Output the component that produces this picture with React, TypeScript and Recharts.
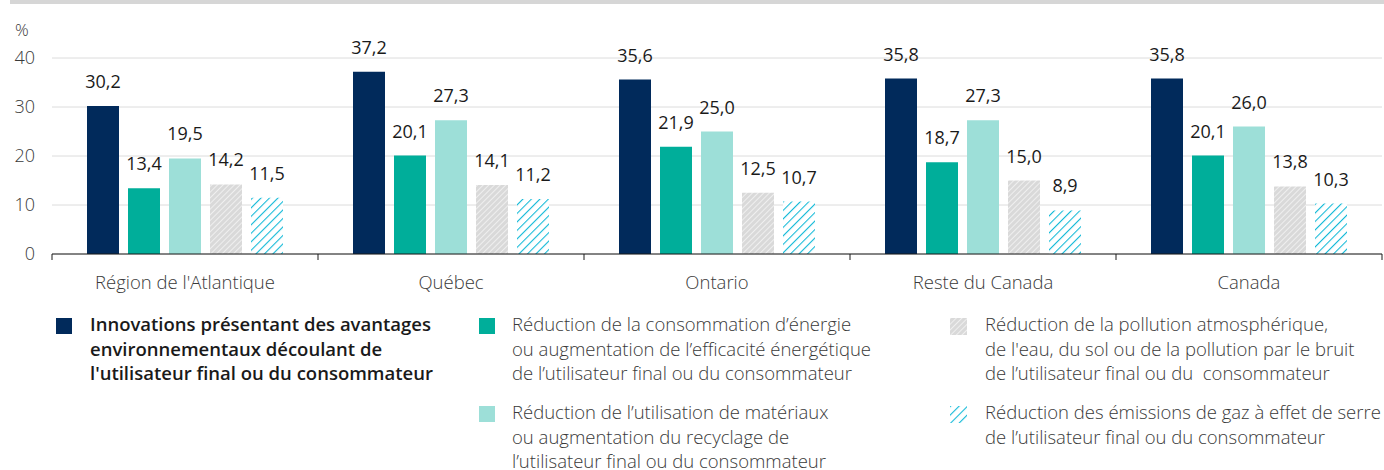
import { BarChart, Bar, XAxis, YAxis, CartesianGrid, LabelList } from 'recharts'

document.body.style.margin = '0'

const categories = ['Région de l\'Atlantique', 'Québec', 'Ontario', 'Reste du Canada', 'Canada']
const avantages = [30.2, 37.2, 35.6, 35.8, 35.8]
const energie = [13.4, 20.1, 21.9, 18.7, 20.1]
const materiaux = [19.5, 27.3, 25.0, 27.3, 26.0]
const pollution = [14.2, 14.1, 12.5, 15.0, 13.8]
const emissions = [11.5, 11.2, 10.7, 8.9, 10.3]
const yTicks = [0, 10, 20, 30, 40]

const data = categories.map((name, i) => ({
  name,
  avantages: avantages[i],
  energie: energie[i],
  materiaux: materiaux[i],
  pollution: pollution[i],
  emissions: emissions[i],
}))

const CHART_W = 1384
const CHART_H = 300
const MARGIN = { top: 58, right: 2, left: 0, bottom: 0 }
const Y_W = 52
const PLOT_W = CHART_W - MARGIN.left - MARGIN.right - Y_W
const BAND = PLOT_W / categories.length

const NAVY = '#012a5b'
const TEAL = '#00ae9a'
const LIGHT_TEAL = '#9ddfd8'
const GRAY = '#d9d9d9'
const CYAN = '#14bad8'
const TEXT = '#3a3a3a'
const FS = 18.5

const series = [
  { key: 'avantages', fill: NAVY },
  { key: 'energie', fill: TEAL },
  { key: 'materiaux', fill: LIGHT_TEAL },
  { key: 'pollution', fill: 'url(#hatchGray)' },
  { key: 'emissions', fill: 'url(#hatchCyan)' },
]

const fmt = (v: any) => Number(v).toFixed(1).replace('.', ',')

function CategoryTick(props: any) {
  const { x, y, payload, index } = props
  const left = x - BAND / 2
  const right = x + BAND / 2
  return (
    <g>
      <line x1={left} x2={left} y1={y} y2={y + 6} stroke="#1a1a1a" />
      {index === categories.length - 1 && (
        <line x1={right} x2={right} y1={y} y2={y + 6} stroke="#1a1a1a" />
      )}
      <text x={x} y={y + 35} textAnchor="middle" fill={TEXT} fontSize={FS} fontWeight={300}>
        {payload.value}
      </text>
    </g>
  )
}

function HatchIcon({ kind }: { kind: 'gray' | 'cyan' }) {
  return (
    <svg width={17} height={17} style={{ display: 'block' }}>
      <defs>
        <pattern id={'icon-' + kind} patternUnits="userSpaceOnUse" width={kind === 'gray' ? 4 : 6} height={6} patternTransform="rotate(45)">
          {kind === 'gray' && <rect width={4} height={6} fill={GRAY} />}
          <line x1={0} y1={0} x2={0} y2={6} stroke={kind === 'gray' ? '#fff' : CYAN} strokeWidth={kind === 'gray' ? 1.2 : 2.2} />
        </pattern>
      </defs>
      <rect width={17} height={17} fill={'url(#icon-' + kind + ')'} />
    </svg>
  )
}

const legendItems = [
  { col: 0, row: 0, icon: <div style={{ width: 16, height: 16, background: NAVY }} />, bold: true,
    text: 'Innovations présentant des avantages\nenvironnementaux découlant de\nl\'utilisateur final ou du consommateur' },
  { col: 1, row: 0, icon: <div style={{ width: 16, height: 16, background: TEAL }} />,
    text: 'Réduction de la consommation d’énergie\nou augmentation de l’efficacité énergétique\nde l’utilisateur final ou du consommateur' },
  { col: 1, row: 1, icon: <div style={{ width: 16, height: 16, background: LIGHT_TEAL }} />,
    text: 'Réduction de l’utilisation de matériaux\nou augmentation du recyclage de\nl’utilisateur final ou du consommateur' },
  { col: 2, row: 0, icon: <HatchIcon kind="gray" />,
    text: 'Réduction de la pollution atmosphérique,\nde l\'eau, du sol ou de la pollution par le bruit\nde l’utilisateur final ou du  consommateur' },
  { col: 2, row: 1, icon: <HatchIcon kind="cyan" />,
    text: 'Réduction des émissions de gaz à effet de serre\nde l’utilisateur final ou du consommateur' },
]
const colX = [56, 479, 950]
const colTextDx = [34, 33, 35]
const rowY = [312, 400]

export default function App() {
  return (
    <div style={{ position: 'relative', width: CHART_W, height: 470, fontFamily: '"Open Sans", sans-serif', background: '#fff', overflow: 'hidden' }}>
      <div style={{ position: 'absolute', left: 10, right: 0, top: 0, height: 4, background: '#d6d6d6' }} />
      <div style={{ position: 'absolute', left: 15, top: 18, fontSize: 17, fontWeight: 300, color: TEXT }}>%</div>
      <div style={{ position: 'absolute', left: 0, top: 0 }}>
        <BarChart width={CHART_W} height={CHART_H} data={data} margin={MARGIN} barSize={32} barGap={9}>
          <defs>
            <pattern id="hatchGray" patternUnits="userSpaceOnUse" width={4} height={6} patternTransform="rotate(45)">
              <rect width={4} height={6} fill={GRAY} />
              <line x1={0} y1={0} x2={0} y2={6} stroke="#fff" strokeWidth={1.2} />
            </pattern>
            <pattern id="hatchCyan" patternUnits="userSpaceOnUse" width={6} height={6} patternTransform="rotate(45)">
              <rect width={6} height={6} fill="#fff" />
              <line x1={0} y1={0} x2={0} y2={6} stroke={CYAN} strokeWidth={2.2} />
            </pattern>
          </defs>
          <CartesianGrid vertical={false} stroke="#dcdcdc" />
          <XAxis
            dataKey="name"
            axisLine={{ stroke: '#1a1a1a' }}
            tickLine={false}
            tickSize={0}
            tickMargin={0}
            height={46}
            interval={0}
            tick={<CategoryTick />}
          />
          <YAxis
            width={Y_W}
            domain={[0, 40]}
            ticks={yTicks}
            axisLine={false}
            tickLine={false}
            tickSize={0}
            tickMargin={17}
            tick={{ fill: TEXT, fontSize: 18, fontWeight: 300 }}
          />
          {series.map((s) => (
            <Bar key={s.key} dataKey={s.key} fill={s.fill} isAnimationActive={false}>
              <LabelList dataKey={s.key} position="top" offset={18} fill="#1a1a1a" fontSize={18} formatter={fmt} />
            </Bar>
          ))}
        </BarChart>
      </div>
      {legendItems.map((item, i) => (
        <div key={i} style={{ position: 'absolute', left: colX[item.col], top: rowY[item.row], display: 'flex' }}>
          <div style={{ marginTop: 6, width: colTextDx[item.col] }}>{item.icon}</div>
          <div style={{
            whiteSpace: 'pre', fontSize: FS, lineHeight: '24.5px',
            fontWeight: item.bold ? 600 : 300, color: item.bold ? '#1a1a1a' : TEXT,
          }}>
            {item.text}
          </div>
        </div>
      ))}
    </div>
  )
}
